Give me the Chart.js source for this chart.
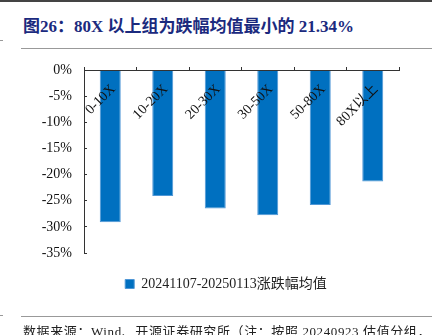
<!DOCTYPE html>
<html><head><meta charset="utf-8">
<script src="https://cdn.jsdelivr.net/npm/chart.js@4"></script>
<style>
html,body{margin:0;padding:0;width:432px;height:335px;overflow:hidden;background:#fff;}
#wrap{position:relative;width:432px;height:335px;}
#c{position:absolute;left:0;top:0;}
.ln{position:absolute;}
#title{position:absolute;left:23px;top:12px;font:bold 17px "Liberation Serif","Noto Sans CJK SC";color:#1b2a7e;white-space:nowrap;}
#foot{position:absolute;left:23px;top:321px;font:13px "Liberation Serif","Noto Sans CJK SC";color:#222;white-space:nowrap;letter-spacing:0.6px;}
</style></head>
<body><div id="wrap">
<div class="ln" style="left:0;top:0;width:432px;height:2px;background:#444"></div>
<div id="title">图26：80X 以上组为跌幅均值最小的 21.34%</div>
<div class="ln" style="left:21px;top:48px;width:411px;height:1px;background:#999"></div>
<div class="ln" style="left:0;top:40px;width:3px;height:1px;background:#999"></div>
<canvas id="c" width="432" height="335"></canvas>
<div class="ln" style="left:21px;top:316px;width:411px;height:1px;background:#999"></div>
<div class="ln" style="left:0;top:315px;width:3px;height:1px;background:#999"></div>
<div id="foot">数据来源：Wind、开源证券研究所（注：按照 20240923 估值分组，</div>
</div>
<script>
const categories = ['0-10X','10-20X','20-30X','30-50X','50-80X','80X以上'];
const seriesName = '20241107-20250113涨跌幅均值';
const seriesValues = [-29.1, -24.1, -26.5, -27.8, -25.8, -21.34];
const yTicks = {min: -35, max: 0, step: 5};

const FONT = '"Liberation Serif","Noto Sans CJK SC"';
new Chart(document.getElementById('c'), {
  type: 'bar',
  data: {
    labels: categories,
    datasets: [{
      label: seriesName,
      data: seriesValues,
      backgroundColor: '#0070c0',
      borderColor: '#4f97d6',
      borderWidth: 1,
      barPercentage: 0.4,
      categoryPercentage: 1.0
    }]
  },
  options: {
    responsive: false,
    animation: false,
    layout: {padding: {left: 20, top: 70, right: 0, bottom: 34}},
    plugins: {
      legend: {
        position: 'bottom',
        labels: {boxWidth: 9, boxHeight: 9, padding: 24, color: '#222', font: {family: FONT, size: 14}}
      },
      tooltip: {enabled: false}
    },
    scales: {
      x: {
        position: {y: 0},
        grid: {display: true, drawOnChartArea: false, offset: true, tickLength: -4, color: '#333', z: 1},
        border: {display: true, color: '#333', width: 1, z: 1},
        ticks: {z: 1, minRotation: 45, maxRotation: 45, padding: 15, labelOffset: 3, color: '#111', font: {family: FONT, size: 14}},
        afterFit: s => { s.height = 0; }
      },
      y: {
        min: yTicks.min, max: yTicks.max,
        grid: {display: true, drawOnChartArea: false, tickLength: -3, color: '#333'},
        border: {display: true, color: '#333', width: 1},
        ticks: {stepSize: yTicks.step, padding: 15, color: '#111', font: {family: FONT, size: 14}, callback: v => v + '%'},
        afterFit: s => { s.width = 64; }
      },
      y2: {
        position: 'right', display: true,
        grid: {display: false}, border: {display: false}, ticks: {display: false},
        afterFit: s => { s.width = 33; }
      }
    }
  }
});
</script>
</body></html>
